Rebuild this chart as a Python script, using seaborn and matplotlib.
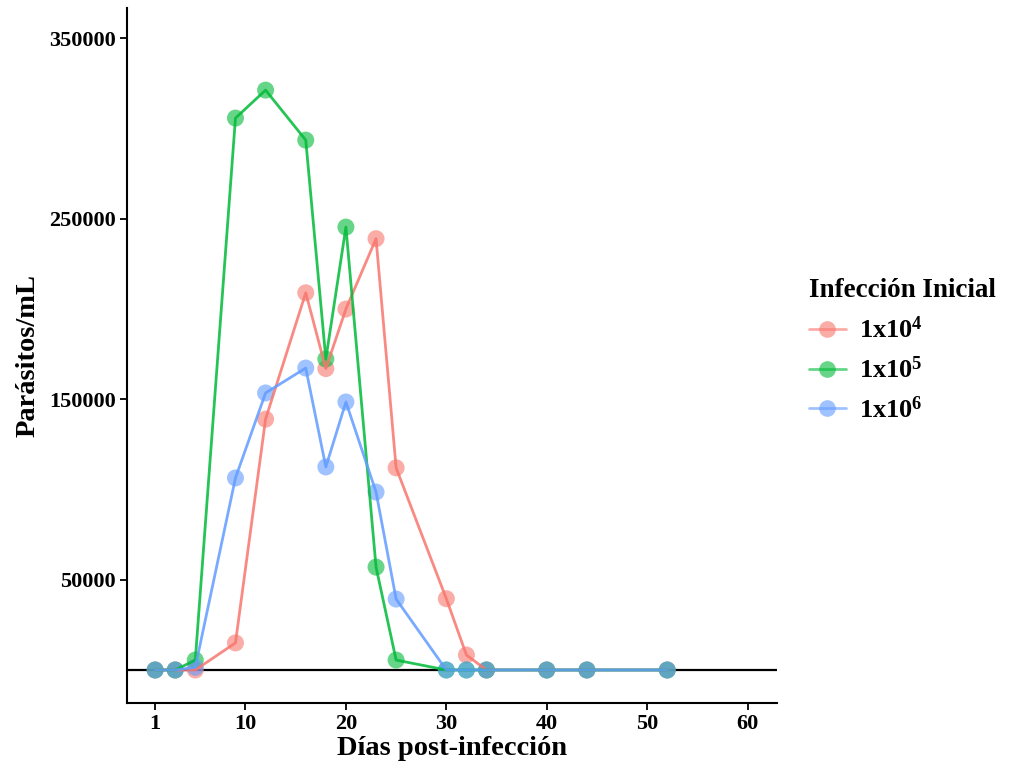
import numpy as np
import pandas as pd
import matplotlib
matplotlib.use("Agg")
import matplotlib.pyplot as plt
import seaborn as sns
from matplotlib.lines import Line2D

# ---- data ----
days = [1, 3, 5, 9, 12, 16, 18, 20, 23, 25, 30, 32, 34, 40, 44, 52]
dose_1e4 = [0, 0, 0, 15000, 139000, 209000, 167000, 200000, 239000, 112000, 39500, 8300, 0, 0, 0, 0]
dose_1e5 = [0, 0, 5500, 305800, 321300, 293600, 172300, 245400, 57000, 5500, 0, 0, 0, 0, 0, 0]
dose_1e6 = [0, 0, 1500, 106400, 153500, 167300, 112500, 148500, 98600, 39300, 0, 0, 0, 0, 0, 0]
groups = ["1e4", "1e5", "1e6"]
group_labels = [r"1x10$^{4}$", r"1x10$^{5}$", r"1x10$^{6}$"]
x_ticks = [1, 10, 20, 30, 40, 50, 60]
y_ticks = [50000, 150000, 250000, 350000]

df = pd.DataFrame({
    "dia": days * 3,
    "parasitos": dose_1e4 + dose_1e5 + dose_1e6,
    "grupo": [groups[0]] * len(days) + [groups[1]] * len(days) + [groups[2]] * len(days),
})

colors = ["#F8766D", "#00BA38", "#619CFF"]
palette = dict(zip(groups, colors))

sns.set_theme(style="ticks")
plt.rcParams["font.family"] = ["Liberation Serif", "DejaVu Serif"]
plt.rcParams["font.weight"] = "bold"
plt.rcParams["text.color"] = "black"
plt.rcParams["axes.labelcolor"] = "black"
plt.rcParams["xtick.color"] = "black"
plt.rcParams["ytick.color"] = "black"
plt.rcParams["mathtext.fontset"] = "custom"
plt.rcParams["mathtext.rm"] = "Liberation Serif:bold"
plt.rcParams["mathtext.it"] = "Liberation Serif:bold"
plt.rcParams["mathtext.bf"] = "Liberation Serif:bold"
plt.rcParams["mathtext.default"] = "bf"

fig = plt.figure(figsize=(10.12, 7.69), dpi=100)
ax = fig.add_axes([0.1255, 0.0858, 0.642, 0.9038])

ax.axhline(0, color="black", lw=1.6, zorder=1)

sns.scatterplot(data=df, x="dia", y="parasitos", hue="grupo", palette=palette,
                s=150, alpha=0.6, edgecolor="none", legend=False, ax=ax, zorder=2)
sns.lineplot(data=df, x="dia", y="parasitos", hue="grupo", palette=palette,
             lw=2, alpha=0.85, legend=False, ax=ax, zorder=3, estimator=None, sort=False)

ax.set_xlim(-1.8, 62.9)
ax.set_ylim(-18300, 366800)
ax.set_xticks(x_ticks)
ax.set_yticks(y_ticks)
ax.set_xticklabels([str(t) for t in x_ticks], fontsize=16, fontweight="bold")
ax.set_yticklabels([str(t) for t in y_ticks], fontsize=16, fontweight="bold")
ax.tick_params(axis="both", length=5, width=1.3, color="black", pad=3)
for s in ["left", "bottom"]:
    ax.spines[s].set_linewidth(1.5)
    ax.spines[s].set_color("black")
sns.despine(ax=ax)

ax.set_xlabel("Días post-infección", fontsize=20.5, fontweight="bold", labelpad=1)
ax.set_ylabel("Parásitos/mL", fontsize=20.5, fontweight="bold", labelpad=6)

handles = [Line2D([0], [0], color=c, lw=2, marker="o", markersize=12,
                  markerfacecolor=c, markeredgecolor="none", alpha=0.6) for c in colors]
leg = fig.legend(handles, group_labels, title="Infección Inicial",
                 loc="upper left", bbox_to_anchor=(0.799, 0.638), frameon=False,
                 borderpad=0, borderaxespad=0, prop={"size": 19, "weight": "bold"},
                 title_fontproperties={"size": 19.5, "weight": "bold"},
                 labelspacing=0.5, handlelength=1.4, handletextpad=0.5, alignment="left")

fig.savefig("out.png", dpi=100)
